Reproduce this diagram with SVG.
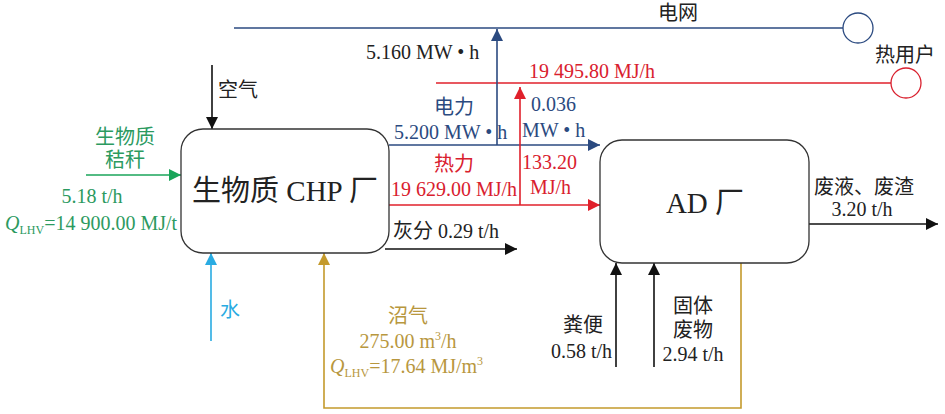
<svg xmlns="http://www.w3.org/2000/svg" width="945" height="414" viewBox="0 0 945 414">
<defs>
<style>
text{font-family:"Liberation Serif","Noto Sans CJK SC",serif;font-size:20px}
.big{font-size:29px;fill:#222}
.k{fill:#222}.b{fill:#2b4a80}.r{fill:#d9202e}.g{fill:#2c9a5f}.c{fill:#29abe2}.y{fill:#b8973e}
.box{fill:#fff;stroke:#333;stroke-width:1.3}
.ln{fill:none;stroke-width:1.6}
.sub{font-size:12px}
</style>
<marker id="mk" viewBox="0 0 10 10" refX="10" refY="5" markerWidth="20" markerHeight="12" markerUnits="userSpaceOnUse" orient="auto"><path d="M0,0L10,5L0,10z" fill="#111"/></marker>
<marker id="mb" viewBox="0 0 10 10" refX="10" refY="5" markerWidth="22" markerHeight="12" markerUnits="userSpaceOnUse" orient="auto"><path d="M0,0L10,5L0,10z" fill="#2b4a80"/></marker>
<marker id="mr" viewBox="0 0 10 10" refX="10" refY="5" markerWidth="22" markerHeight="12" markerUnits="userSpaceOnUse" orient="auto"><path d="M0,0L10,5L0,10z" fill="#e0202b"/></marker>
<marker id="mg" viewBox="0 0 10 10" refX="10" refY="5" markerWidth="22" markerHeight="12" markerUnits="userSpaceOnUse" orient="auto"><path d="M0,0L10,5L0,10z" fill="#1aa55a"/></marker>
<marker id="mc" viewBox="0 0 10 10" refX="10" refY="5" markerWidth="18" markerHeight="12" markerUnits="userSpaceOnUse" orient="auto"><path d="M0,0L10,5L0,10z" fill="#29abe2"/></marker>
<marker id="my" viewBox="0 0 10 10" refX="10" refY="5" markerWidth="18" markerHeight="12" markerUnits="userSpaceOnUse" orient="auto"><path d="M0,0L10,5L0,10z" fill="#c49a2c"/></marker>
</defs>
<rect width="945" height="414" fill="#fff"/>
<g id="connectors">
<line class="ln" x1="234" y1="28" x2="843" y2="28" stroke="#2b4a80" stroke-width="2.2"/>
<line class="ln" x1="436" y1="83" x2="891" y2="83" stroke="#e0202b" stroke-width="2.2"/>
<line class="ln" x1="389" y1="145" x2="600" y2="145" stroke="#2b4a80" marker-end="url(#mb)"/>
<line class="ln" x1="497" y1="145" x2="497" y2="29" stroke="#2b4a80" marker-end="url(#mb)"/>
<line class="ln" x1="389" y1="205" x2="600" y2="205" stroke="#e0202b" marker-end="url(#mr)"/>
<line class="ln" x1="520" y1="205" x2="520" y2="87" stroke="#e0202b" marker-end="url(#mr)"/>
<line class="ln" x1="385" y1="249" x2="517" y2="249" stroke="#111" marker-end="url(#mk)"/>
<line class="ln" x1="212" y1="65" x2="212" y2="129" stroke="#111" marker-end="url(#mk)"/>
<line class="ln" x1="86" y1="175" x2="181" y2="175" stroke="#1aa55a" marker-end="url(#mg)"/>
<line class="ln" x1="211" y1="341" x2="211" y2="253" stroke="#29abe2" marker-end="url(#mc)"/>
<polyline class="ln" points="741,263 741,408 324,408 324,253" stroke="#c49a2c" marker-end="url(#my)"/>
<line class="ln" x1="616" y1="367" x2="616" y2="263" stroke="#111" marker-end="url(#mk)"/>
<line class="ln" x1="654" y1="367" x2="654" y2="263" stroke="#111" marker-end="url(#mk)"/>
<line class="ln" x1="809" y1="224" x2="938" y2="224" stroke="#111" marker-end="url(#mk)"/>
</g>
<g id="grid"><circle cx="858" cy="28" r="15" fill="#fff" stroke="#2b4a80" stroke-width="1.3"/><text x="678" y="20" text-anchor="middle" class="k">电网</text></g>
<g id="heatuser"><circle cx="906" cy="83" r="15" fill="#fff" stroke="#d9202e" stroke-width="1.3"/><text x="905" y="62" text-anchor="middle" class="k">热用户</text></g>
<g id="chp"><rect class="box" x="181" y="129" width="208" height="124" rx="22"/><text x="285" y="201" text-anchor="middle" class="big">生物质 CHP 厂</text></g>
<g id="ad"><rect class="box" x="600" y="140" width="209" height="123" rx="22"/><text x="705" y="213" text-anchor="middle" class="big">AD 厂</text></g>
<g id="labels">
<text x="366" y="59" class="k">5.160 MW • h</text>
<text x="529" y="78" class="r">19 495.80 MJ/h</text>
<text x="454" y="114" text-anchor="middle" class="b">电力</text>
<text x="394" y="139" class="b">5.200 MW • h</text>
<text x="531" y="111" class="b">0.036</text>
<text x="522" y="137" class="b">MW • h</text>
<text x="454" y="171" text-anchor="middle" class="r">热力</text>
<text x="391" y="196" class="r">19 629.00 MJ/h</text>
<text x="522" y="169" class="r">133.20</text>
<text x="530" y="194" class="r">MJ/h</text>
<text x="393" y="238" class="k">灰分 0.29 t/h</text>
<text x="218" y="97" class="k">空气</text>
<text x="125" y="144" text-anchor="middle" class="g">生物质</text>
<text x="125" y="167" text-anchor="middle" class="g">秸秆</text>
<text x="92" y="203" text-anchor="middle" class="g">5.18 t/h</text>
<text x="5" y="230" class="g"><tspan font-style="italic">Q</tspan><tspan class="sub" dy="4">LHV</tspan><tspan dy="-4">=14 900.00 MJ/t</tspan></text>
<text x="220" y="317" class="c">水</text>
<text x="408" y="323" text-anchor="middle" class="y">沼气</text>
<text x="408" y="348" text-anchor="middle" class="y">275.00 m<tspan class="sub" dy="-8">3</tspan><tspan dy="8">/h</tspan></text>
<text x="330" y="373" class="y"><tspan font-style="italic">Q</tspan><tspan class="sub" dy="4">LHV</tspan><tspan dy="-4">=17.64 MJ/m</tspan><tspan class="sub" dy="-8">3</tspan></text>
<text x="583" y="332" text-anchor="middle" class="k">粪便</text>
<text x="612" y="358" text-anchor="end" class="k">0.58 t/h</text>
<text x="693" y="313" text-anchor="middle" class="k">固体</text>
<text x="693" y="337" text-anchor="middle" class="k">废物</text>
<text x="693" y="361" text-anchor="middle" class="k">2.94 t/h</text>
<text x="864" y="194" text-anchor="middle" class="k">废液、废渣</text>
<text x="862" y="216" text-anchor="middle" class="k">3.20 t/h</text>
</g>
</svg>
